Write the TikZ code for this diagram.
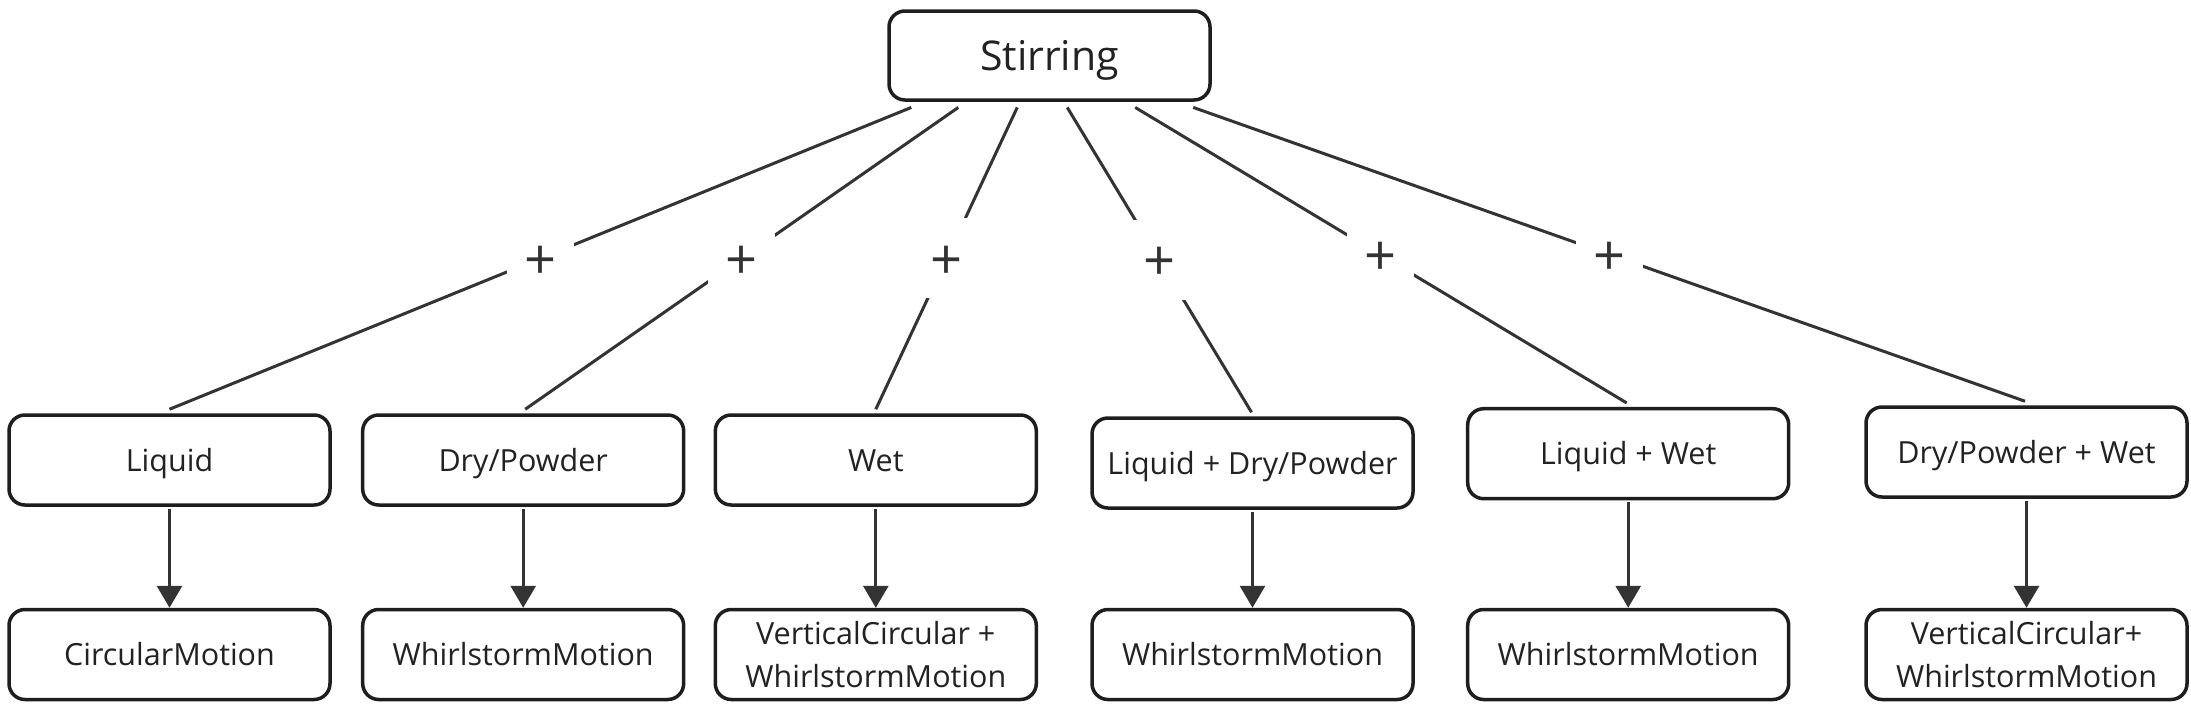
\documentclass[tikz,border=0pt]{standalone}
\usepackage{fontspec}
\setmainfont{Open Sans}
\usetikzlibrary{arrows.meta}
\definecolor{linec}{HTML}{333333}
\definecolor{boxc}{HTML}{1E1E1E}
\definecolor{txtc}{HTML}{222222}
\begin{document}
\begin{tikzpicture}[x=1pt,y=-1pt,
  box/.style={draw=boxc, line width=3.5pt, rounded corners=16pt, fill=white,
    minimum width=321pt, minimum height=90pt, inner sep=0pt, align=center,
    text=txtc, font=\fontsize{30.5}{43}\selectfont},
  oneline/.style={text height=22pt, text depth=0pt},
  conn/.style={draw=linec, line width=3pt},
  arr/.style={conn, shorten <=2pt, -{Triangle[length=22pt,width=25pt]}},
  plusnode/.style={fill=white, minimum width=67pt, minimum height=80pt,
    inner sep=0pt, text=linec, font=\fontsize{56}{60}\selectfont}]
\useasboundingbox (0,0) rectangle (2191,713);
\fill[white] (0,0) rectangle (2191,713);

\node[box, font=\fontsize{41}{49}\selectfont, minimum height=89pt, text height=29pt, text depth=0pt] (stir) at (1049.5,55.5) {Stirring};

\node[box, oneline] (liq) at (169.5,460) {Liquid};
\node[box, oneline] (dry) at (523.2,460) {Dry/Powder};
\node[box, oneline] (wet) at (875.8,460) {Wet};
\node[box, oneline] (ld)  at (1252.5,463) {Liquid + Dry/Powder};
\node[box, oneline] (lw)  at (1628.2,453.7) {Liquid + Wet};
\node[box, oneline] (dw)  at (2026.5,452) {Dry/Powder + Wet};

\node[box, oneline] (m1) at (169.5,654.5) {CircularMotion};
\node[box, oneline] (m2) at (523.2,654.5) {WhirlstormMotion};
\node[box] (m3) at (875.8,654.5) {VerticalCircular +\\WhirlstormMotion};
\node[box, oneline] (m4) at (1252.5,654.5) {WhirlstormMotion};
\node[box, oneline] (m5) at (1628.2,654.5) {WhirlstormMotion};
\node[box] (m6) at (2026.5,654.5) {VerticalCircular+\\WhirlstormMotion};

\newcommand{\plustext}{\raisebox{-4pt}[\height][0pt]{+}}
\draw[conn] ([xshift=24pt,yshift=-5.7pt]stir.south west) -- node[plusnode]{\plustext} ([yshift=4pt]liq.north);
\draw[conn] ([xshift=71pt,yshift=-5.7pt]stir.south west) -- node[plusnode]{\plustext} ([xshift=2pt,yshift=4pt]dry.north);
\draw[conn] ([xshift=130pt,yshift=-5.7pt]stir.south west) -- node[plusnode]{\plustext} ([yshift=4pt]wet.north);
\draw[conn] ([xshift=180pt,yshift=-5.7pt]stir.south west) -- node[plusnode]{\plustext} ([xshift=-1pt,yshift=4pt]ld.north);
\draw[conn] ([xshift=248pt,yshift=-5.7pt]stir.south west) -- node[plusnode]{\plustext} ([xshift=-1.5pt,yshift=4pt]lw.north);
\draw[conn] ([xshift=306pt,yshift=-5.7pt]stir.south west) -- node[plusnode]{\plustext} ([xshift=-1.5pt,yshift=4pt]dw.north);

\draw[arr] (liq.south) -- (m1.north);
\draw[arr] (dry.south) -- (m2.north);
\draw[arr] (wet.south) -- (m3.north);
\draw[arr] (ld.south) -- (m4.north);
\draw[arr] (lw.south) -- (m5.north);
\draw[arr] (dw.south) -- (m6.north);
\end{tikzpicture}
\end{document}
